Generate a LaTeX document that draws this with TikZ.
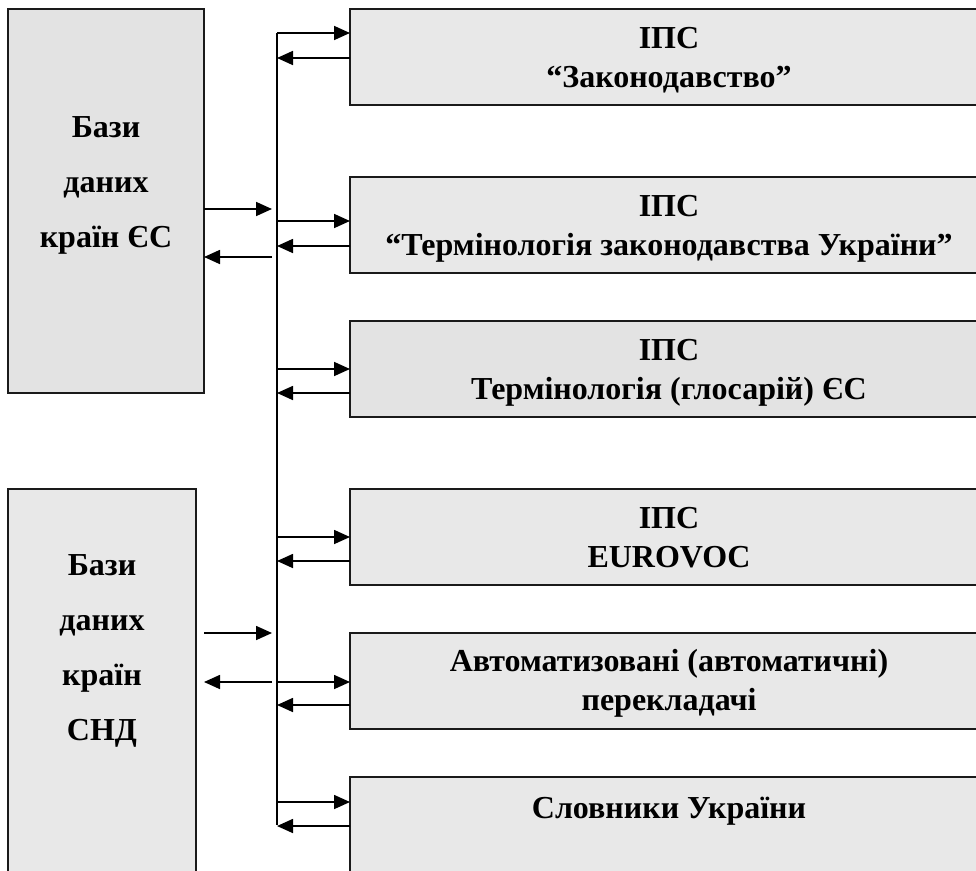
\documentclass[tikz,border=0pt]{standalone}
\usepackage{fontspec}
\setmainfont{Liberation Serif}
\usetikzlibrary{arrows.meta}
\definecolor{boxA}{HTML}{E8E8E8}
\definecolor{boxB}{HTML}{E3E3E3}
\definecolor{edge}{HTML}{1A1A1A}
\tikzset{
  base/.style={draw=edge, line width=1.5pt, outer sep=0pt, inner sep=0pt, anchor=north west},
  rbox/.style={base, fill=boxA, minimum width=638pt, minimum height=96pt},
  lbox/.style={base, fill=boxA},
  ltext/.style={align=center, font=\bfseries\fontsize{32}{55}\selectfont, inner sep=0pt, anchor=base},
  rtext/.style={align=center, font=\bfseries\fontsize{32}{39}\selectfont, inner sep=0pt, anchor=base},
  arr/.style={line width=1.7pt, -{Triangle[length=16pt,width=14pt]}},
  bus/.style={line width=1.7pt}
}
\begin{document}
\begin{tikzpicture}[x=1pt,y=-1pt]
\useasboundingbox (0,0) rectangle (976,870);
\clip (0,0) rectangle (976,870);
\fill[white] (0,0) rectangle (976,870);
% left boxes
\node[lbox, fill=boxB, minimum width=196pt, minimum height=384pt] (L1) at (8,9) {};
\node[ltext] (L1t) at (106,247) {Бази\\даних\\країн ЄС};
\node[lbox, minimum width=188pt, minimum height=420pt] (L2) at (8,489) {};
\node[ltext] (L2t) at (102,740) {Бази\\даних\\країн\\СНД};
% right boxes
\node[rbox] (b1) at (350,9) {};
\node[rtext] (b1t) at (669,87) {ІПС\\“Законодавство”};
\node[rbox] (b2) at (350,177) {};
\node[rtext] (b2t) at (669,255) {ІПС\\“Термінологія законодавства України”};
\node[rbox, fill=boxB] (b3) at (350,321) {};
\node[rtext] (b3t) at (669,399) {ІПС\\Термінологія (глосарій) ЄС};
\node[rbox] (b4) at (350,489) {};
\node[rtext] (b4t) at (669,567) {ІПС\\EUROVOC};
\node[rbox] (b5) at (350,633) {};
\node[rtext] (b5t) at (669,710) {Автоматизовані (автоматичні)\\перекладачі};
\node[rbox] (b6) at (350,777) {};
\node[rtext] (b6t) at (669,818) {Словники України};
% bus
\coordinate (bt) at (277,33);
\coordinate (bb) at (277,825);
\draw[bus] (bt) -- (bb);
% bus <-> right boxes
\foreach \b/\i/\o in {b1/33/58, b2/221/246, b3/369/393, b4/537/561, b5/682/705, b6/802/826}{
  \draw[arr] (bt |- 0,\i) -- (\b.west |- 0,\i);
  \draw[arr] (\b.west |- 0,\o) -- (bt |- 0,\o);
}
% left boxes <-> bus
\coordinate (e1o) at (272,209);
\coordinate (e1i) at (272,257);
\draw[arr] (L1.east |- e1o) -- (e1o);
\draw[arr] (e1i) -- (L1.east |- e1i);
\coordinate (s1s) at (204,633);
\coordinate (s1o) at (272,633);
\coordinate (s1i) at (272,682);
\coordinate (s1e) at (204,682);
\draw[arr] (s1s) -- (s1o);
\draw[arr] (s1i) -- (s1e);
\end{tikzpicture}
\end{document}
